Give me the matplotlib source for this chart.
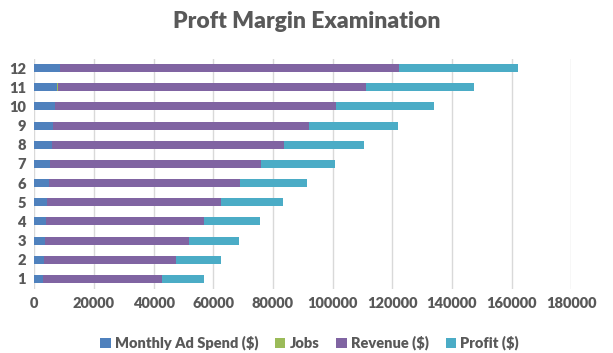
import numpy as np
import matplotlib.pyplot as plt

# data
months = [str(i) for i in range(1, 13)]
ad_spend = [3000, 3200, 3700, 3900, 4300, 5000, 5300, 5900, 6300, 6900, 7700, 8500]
jobs = [40, 45, 50, 55, 60, 65, 70, 75, 80, 85, 250, 95]
revenue = [39900, 44100, 48200, 52900, 58200, 63900, 70600, 77700, 85600, 94100, 103200, 113800]
profit = [14000, 15300, 16700, 18700, 20700, 22400, 24700, 27000, 29800, 33000, 36300, 39800]

colors = ['#4F81BD', '#9BBB59', '#8064A2', '#4BACC6']
labels = ['Monthly Ad Spend ($)', 'Jobs', 'Revenue ($)', 'Profit ($)']
series = [ad_spend, jobs, revenue, profit]

plt.rcParams['font.family'] = ['Lato', 'DejaVu Sans']
txt = '#595959'

fig = plt.figure(figsize=(6.13, 3.53), dpi=100)
ax = fig.add_axes([34.3 / 613, 1 - 288.5 / 353, (571.3 - 34.3) / 613, (288.5 - 58.5) / 353])

y = np.arange(len(months))
left = np.zeros(len(months))
for vals, c, lab in zip(series, colors, labels):
    ax.barh(y, vals, left=left, height=0.42, color=c, label=lab, zorder=3)
    left += np.array(vals)

ax.set_xlim(0, 180000)
ax.set_ylim(-0.5, len(months) - 0.5)
ax.set_yticks(y)
ax.set_yticklabels(months)
ax.set_xticks(np.arange(0, 180001, 20000))
ax.grid(axis='x', color='#D9D9D9', linewidth=1, zorder=0)
for s in ax.spines.values():
    s.set_visible(False)
ax.tick_params(length=0, labelsize=10.5, labelcolor=txt, pad=6)
for t in ax.get_xticklabels() + ax.get_yticklabels():
    t.set_fontweight('heavy')

fig.suptitle('Proft Margin Examination', x=0.5, y=1 - 22 / 353, va='center',
             fontsize=16.5, fontweight='heavy', color=txt)

leg = fig.legend(loc='center', bbox_to_anchor=(0.505, 1 - 343 / 353), ncol=4, frameon=False,
                 handlelength=0.7, handleheight=0.7, handletextpad=0.3, columnspacing=1.15,
                 prop={'size': 10.5, 'weight': 'heavy'})
for t in leg.get_texts():
    t.set_color(txt)

fig.savefig('out.png', dpi=100)
